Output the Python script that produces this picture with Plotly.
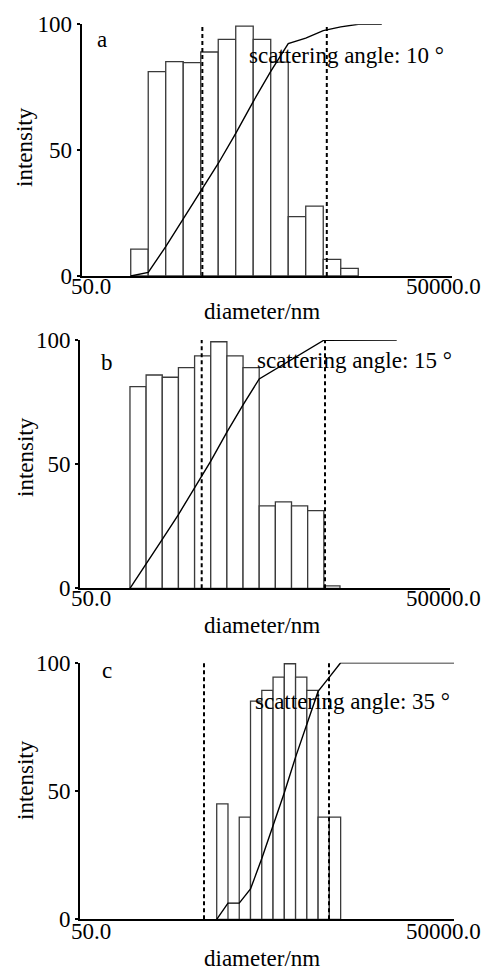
import numpy as np
import plotly.graph_objects as go

# ---------------- data ----------------
# bin edges (nm) and bar heights (intensity)
edges_a = [124.7, 172.8, 239.5, 331.8, 459.8, 637.2, 882.9, 1223, 1695, 2349, 3255, 4511, 6251, 8662]
heights_a = [10.7, 81.2, 85.2, 84.8, 89.0, 94.0, 99.3, 94.0, 85.0, 23.6, 27.8, 6.6, 3.0]
cum_x_a = [124.7, 172.8, 239.5, 331.8, 459.8, 637.2, 882.9, 1223, 1695, 2349, 3255, 4511, 6251, 8662, 13430]
cum_y_a = [0, 1.4, 11.7, 22.6, 33.4, 44.7, 56.7, 69.3, 81.3, 92.3, 94.5, 97.5, 99.0, 100, 100]
dash_a = [474, 4820]

edges_b = [127.1, 171.8, 232.3, 314.1, 424.7, 574.2, 776.3, 1049.6, 1419, 1919, 2594, 3507, 4742, 6411]
heights_b = [81.2, 85.9, 85.0, 88.9, 93.6, 99.3, 93.6, 88.9, 33.2, 34.8, 33.2, 31.3, 1.0]
cum_x_b = [127.1, 171.8, 232.3, 314.1, 424.7, 574.2, 776.3, 1049.6, 1419, 1919, 2594, 3507, 4742, 18490]
cum_y_b = [0, 9.6, 19.7, 29.7, 40.2, 51.2, 62.9, 73.9, 84.3, 88.2, 92.3, 96.2, 99.9, 100]
dash_b = [485, 4845]

edges_c = [624.6, 769.1, 946.9, 1166, 1436, 1768, 2177, 2680, 3300, 4064, 5004, 6161]
heights_c = [45.0, 0, 39.8, 85.0, 89.2, 94.4, 99.6, 94.4, 89.2, 39.8, 39.8]
cum_x_c = [624.6, 769.1, 946.9, 1166, 1436, 1768, 2177, 2680, 3300, 4064, 5004, 6161, 50000]
cum_y_c = [0, 6.3, 6.3, 11.8, 23.7, 36.1, 49.3, 63.2, 76.4, 88.8, 94.4, 100, 100]
dash_c = [494, 4969]

panel_letters = ["a", "b", "c"]
angles = ["scattering angle: 10 °", "scattering angle: 15 °", "scattering angle: 35 °"]
x_range_nm = [50.0, 50000.0]
x_tick_text = ["50.0", "50000.0"]
y_ticks = [0, 50, 100]
x_title = "diameter/nm"
y_title = "intensity"

# ---------------- layout geometry (pixels) ----------------
W, H = 484, 973
FONT = "Liberation Serif, Times New Roman, serif"
FS = 23

panels = [
    dict(edges=edges_a, h=heights_a, cx=cum_x_a, cy=cum_y_a, dash=dash_a,
         x0=81.7, x1=452.3, ytop=24.3, ybot=276.0,
         letter=(102, 40), angle=(247, 55), xlab_y=287, xtitle_y=311.5, ytitle_y=147),
    dict(edges=edges_b, h=heights_b, cx=cum_x_b, cy=cum_y_b, dash=dash_b,
         x0=80.0, x1=450.0, ytop=340.0, ybot=588.3,
         letter=(107, 362), angle=(255, 361), xlab_y=598.5, xtitle_y=625, ytitle_y=457),
    dict(edges=edges_c, h=heights_c, cx=cum_x_c, cy=cum_y_c, dash=dash_c,
         x0=80.0, x1=454.0, ytop=662.7, ybot=919.3,
         letter=(107, 670), angle=(253, 701), xlab_y=931.5, xtitle_y=958, ytitle_y=780),
]

fig = go.Figure()
annotations = []
shapes = []
lx_range = [np.log10(x_range_nm[0]), np.log10(x_range_nm[1])]


def pap(px, py):
    return px / W, 1 - py / H


for i, p in enumerate(panels):
    n = i + 1
    xa = "x" if n == 1 else f"x{n}"
    ya = "y" if n == 1 else f"y{n}"
    le = np.log10(np.array(p["edges"]))
    centers = (le[:-1] + le[1:]) / 2
    widths = np.diff(le)
    fig.add_trace(go.Bar(x=centers, y=p["h"], width=widths, xaxis=xa, yaxis=ya,
                         marker=dict(color="white", line=dict(color="#3a3a3a", width=1.3)),
                         showlegend=False))
    fig.add_trace(go.Scatter(x=np.log10(np.array(p["cx"])), y=p["cy"], mode="lines",
                             xaxis=xa, yaxis=ya, cliponaxis=False,
                             line=dict(color="black", width=1.4), showlegend=False))
    for d in p["dash"]:
        shapes.append(dict(type="line", xref=xa, yref=ya, x0=np.log10(d), x1=np.log10(d),
                           y0=0, y1=100, line=dict(color="black", width=2, dash="4px,3px")))

    xd = [p["x0"] / W, p["x1"] / W]
    yd = [1 - p["ybot"] / H, 1 - p["ytop"] / H]
    axkey = "xaxis" if n == 1 else f"xaxis{n}"
    aykey = "yaxis" if n == 1 else f"yaxis{n}"
    fig.layout[axkey] = dict(domain=xd, range=lx_range, anchor=ya, showgrid=False,
                             zeroline=False, showline=True, linecolor="black", linewidth=2,
                             showticklabels=False, ticks="", fixedrange=True, automargin=False)
    fig.layout[aykey] = dict(domain=yd, range=[0, 100], anchor=xa, showgrid=False,
                             zeroline=False, showline=True, linecolor="black", linewidth=2,
                             tickvals=y_ticks, ticks="outside", ticklen=3, tickwidth=1.5,
                             tickcolor="black", automargin=False,
                             tickfont=dict(family=FONT, size=FS, color="black"),
                             fixedrange=True)

    # x tick labels
    for val, txt, px in zip(x_range_nm, x_tick_text, [91, 443]):
        ax_, ay_ = pap(px, p["xlab_y"])
        annotations.append(dict(x=ax_, y=ay_, xref="paper", yref="paper", text=txt,
                                showarrow=False, xanchor="center", yanchor="middle",
                                font=dict(family=FONT, size=FS, color="black")))
    # x title
    ax_, ay_ = pap(262, p["xtitle_y"])
    annotations.append(dict(x=ax_, y=ay_, xref="paper", yref="paper", text=x_title,
                            showarrow=False, xanchor="center", yanchor="middle",
                            font=dict(family=FONT, size=FS, color="black")))
    # y title
    ax_, ay_ = pap(25, p["ytitle_y"])
    annotations.append(dict(x=ax_, y=ay_, xref="paper", yref="paper", text=y_title,
                            showarrow=False, xanchor="center", yanchor="middle", textangle=-90,
                            font=dict(family=FONT, size=FS, color="black")))
    # panel letter
    ax_, ay_ = pap(*p["letter"])
    annotations.append(dict(x=ax_, y=ay_, xref="paper", yref="paper", text=panel_letters[i],
                            showarrow=False, xanchor="center", yanchor="middle",
                            font=dict(family=FONT, size=FS, color="black")))
    # scattering angle
    ax_, ay_ = pap(*p["angle"])
    annotations.append(dict(x=ax_, y=ay_, xref="paper", yref="paper", text=angles[i],
                            showarrow=False, xanchor="left", yanchor="middle",
                            font=dict(family=FONT, size=FS, color="black")))

fig.update_layout(template="none", width=W, height=H, margin=dict(l=0, r=0, t=0, b=0, pad=0),
                  paper_bgcolor="white", plot_bgcolor="white", barmode="overlay",
                  font=dict(family=FONT, size=FS, color="black"),
                  annotations=annotations, shapes=shapes, showlegend=False)

fig.write_html("out.html", config={"displayModeBar": False})
